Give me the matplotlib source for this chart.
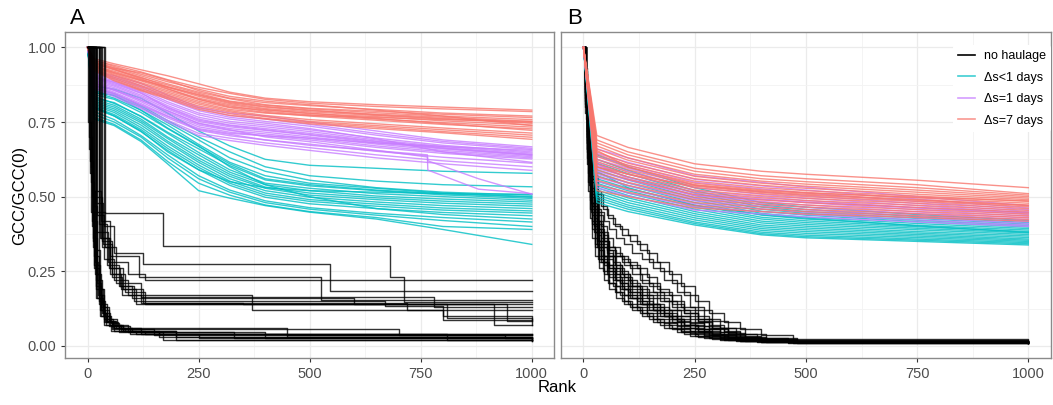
import numpy as np
import matplotlib
matplotlib.use("Agg")
import matplotlib.pyplot as plt
from matplotlib.lines import Line2D

plt.rcParams['font.family'] = ['Liberation Sans', 'DejaVu Sans']

# kolory jak w ggplot
kolory = {"no haulage": "black", "ds<1": "#00BFC4", "ds=1": "#C77CFF", "ds=7": "#F8766D"}
etykiety = ["no haulage", "\u0394s<1 days", "\u0394s=1 days", "\u0394s=7 days"]

# ---------------- panel A ----------------
rank_a = [0, 15, 60, 120, 180, 250, 320, 400, 500, 650, 800, 1000]

red_a = [
    [1, .962, .945, .925, .905, .878, .850, .830, .818, .808, .800, .790],
    [1, .955, .940, .918, .892, .866, .846, .826, .813, .802, .794, .785],
    [1, .958, .936, .910, .885, .860, .836, .820, .808, .790, .770, .738],
    [1, .950, .930, .915, .890, .855, .830, .815, .805, .792, .780, .770],
    [1, .952, .932, .905, .878, .850, .828, .808, .796, .786, .776, .765],
    [1, .946, .925, .898, .874, .846, .820, .806, .794, .781, .770, .758],
    [1, .944, .928, .900, .868, .840, .815, .800, .788, .776, .766, .752],
    [1, .940, .920, .892, .866, .836, .812, .795, .784, .772, .760, .746],
    [1, .942, .915, .888, .860, .830, .808, .792, .778, .768, .754, .740],
    [1, .936, .912, .882, .855, .826, .804, .786, .774, .760, .748, .733],
    [1, .938, .908, .878, .850, .820, .798, .782, .770, .756, .742, .727],
    [1, .932, .905, .872, .845, .815, .792, .780, .772, .765, .758, .752],
    [1, .930, .900, .868, .840, .810, .788, .772, .758, .744, .730, .713],
    [1, .928, .896, .862, .836, .804, .784, .768, .752, .738, .724, .706],
    [1, .925, .892, .858, .832, .798, .778, .762, .748, .733, .718, .699],
    [1, .922, .888, .855, .828, .792, .772, .760, .744, .728, .714, .692],
    [1, .948, .926, .895, .862, .826, .800, .790, .780, .762, .745, .722],
    [1, .934, .916, .890, .868, .842, .818, .802, .790, .774, .762, .748],
]

purple_a = [
    [1, .920, .905, .880, .840, .800, .780, .770, .750, .720, .690, .667],
    [1, .915, .900, .872, .832, .795, .772, .760, .742, .712, .685, .662],
    [1, .910, .895, .866, .826, .788, .766, .752, .736, .706, .680, .658],
    [1, .906, .888, .858, .818, .780, .760, .746, .728, .694, .650, .615],
    [1, .902, .884, .852, .812, .774, .752, .740, .724, .696, .672, .650],
    [1, .898, .878, .846, .805, .766, .746, .734, .718, .690, .668, .646],
    [1, .895, .874, .840, .800, .760, .740, .728, .712, .686, .664, .642],
    [1, .890, .870, .835, .794, .752, .734, .722, .706, .680, .660, .638],
    [1, .886, .865, .830, .788, .746, .728, .716, .700, .676, .655, .634],
    [1, .882, .860, .824, .782, .740, .722, .710, .695, .670, .650, .630],
    [1, .878, .856, .818, .776, .734, .716, .704, .690, .665, .645, .626],
    [1, .874, .850, .812, .770, .728, .712, .704, .696, .680, .668, .655],
    [1, .870, .846, .806, .764, .722, .704, .690, .676, .652, .632, .612],
    [1, .866, .840, .800, .756, .712, .696, .680, .664, .640, .620, .600],
    [1, .862, .835, .795, .750, .705, .688, .672, .655, .630, .610, .588],
    [1, .900, .882, .848, .798, .756, .738, .724, .708, .684, .662, .640],
]
# dwie linie purpurowe ktore spadaja do ~0.51
purple_a_rank_x = [0, 15, 100, 250, 400, 500, 765, 766, 880, 1000]
purple_a_x = [
    [1, .880, .835, .745, .700, .684, .633, .589, .525, .510],
    [1, .870, .820, .725, .690, .672, .640, .620, .560, .508],
]

cyan_a = [
    [1, .870, .860, .830, .780, .720, .670, .625, .605, .595, .585, .578],
    [1, .862, .845, .805, .755, .700, .650, .600, .570, .552, .540, .533],
    [1, .855, .838, .800, .748, .690, .630, .585, .555, .530, .515, .505],
    [1, .848, .840, .790, .740, .675, .615, .570, .545, .528, .512, .500],
    [1, .842, .826, .782, .728, .668, .610, .560, .540, .522, .510, .498],
    [1, .800, .770, .720, .650, .590, .550, .530, .520, .515, .510, .508],
    [1, .830, .815, .768, .712, .648, .590, .545, .528, .510, .500, .488],
    [1, .826, .806, .760, .700, .640, .582, .540, .520, .502, .492, .482],
    [1, .820, .800, .754, .695, .630, .575, .532, .512, .496, .485, .475],
    [1, .815, .794, .748, .686, .622, .568, .528, .505, .490, .478, .468],
    [1, .810, .788, .740, .680, .615, .560, .520, .498, .482, .470, .460],
    [1, .805, .782, .732, .670, .606, .552, .512, .490, .475, .462, .452],
    [1, .800, .775, .725, .662, .598, .545, .505, .484, .468, .455, .445],
    [1, .795, .770, .718, .655, .590, .538, .498, .476, .460, .447, .436],
    [1, .850, .830, .790, .730, .670, .600, .540, .500, .460, .440, .425],
    [1, .785, .758, .705, .640, .570, .522, .486, .463, .444, .430, .415],
    [1, .775, .750, .700, .630, .560, .515, .480, .458, .438, .420, .400],
    [1, .765, .742, .690, .618, .545, .505, .472, .450, .430, .400, .390],
    [1, .760, .738, .685, .610, .520, .495, .470, .448, .425, .390, .340],
    [1, .836, .812, .770, .716, .660, .604, .556, .536, .520, .506, .494],
]

# czarne linie (schodki) w panelu A: (rangi, wartosci)
black_a = [
    ([0, 8, 14, 20, 28, 38, 55, 150, 1000], [1, .55, .30, .19, .12, .08, .055, .035, .035]),
    ([0, 5, 12, 18, 25, 35, 50, 80, 200, 1000], [1, .62, .35, .22, .15, .10, .07, .05, .03, .03]),
    ([0, 10, 16, 24, 32, 42, 60, 90, 330, 1000], [1, .50, .28, .17, .11, .08, .06, .045, .025, .02]),
    ([0, 3, 10, 17, 26, 36, 48, 70, 170, 1000], [1, .70, .40, .24, .14, .09, .065, .045, .02, .02]),
    ([0, 12, 18, 26, 34, 44, 58, 85, 160, 810, 1000], [1, .45, .26, .16, .11, .08, .06, .05, .04, .02, .02]),
    ([0, 6, 12, 20, 30, 40, 55, 75, 130, 450, 1000], [1, .58, .33, .20, .12, .085, .065, .05, .04, .03, .03]),
    ([0, 15, 22, 30, 40, 52, 70, 100, 160, 1000], [1, .42, .24, .15, .10, .075, .06, .045, .03, .015]),
    ([0, 4, 9, 15, 22, 30, 42, 60, 110, 250, 1000], [1, .66, .42, .26, .16, .10, .07, .05, .04, .025, .02]),
    ([0, 18, 25, 32, 44, 58, 75, 95, 1000], [1, .38, .22, .14, .09, .07, .055, .04, .04]),
    ([0, 7, 13, 21, 30, 44, 64, 120, 400, 1000], [1, .60, .36, .21, .13, .085, .06, .045, .025, .025]),
    ([0, 20, 28, 36, 48, 62, 80, 120, 450, 940, 1000], [1, .32, .19, .12, .085, .065, .05, .04, .035, .025, .025]),
    ([0, 2, 8, 14, 20, 28, 38, 52, 200, 1000], [1, .75, .45, .27, .16, .10, .07, .05, .02, .015]),
    ([0, 9, 17, 25, 35, 48, 66, 90, 450, 1000], [1, .52, .30, .19, .13, .09, .07, .06, .04, .04]),
    ([0, 14, 21, 29, 38, 50, 68, 95, 700, 1000], [1, .47, .27, .17, .11, .08, .065, .055, .035, .035]),
    ([0, 40, 170, 680, 712, 1000], [1, .445, .334, .232, .147, .147]),
    ([0, 36, 60, 125, 545, 1000], [1, .40, .31, .275, .184, .184]),
    ([0, 30, 50, 115, 525, 1000], [1, .42, .30, .231, .155, .155]),
    ([0, 25, 45, 90, 130, 1000], [1, .38, .28, .24, .222, .222]),
    ([0, 20, 40, 65, 120, 780, 1000], [1, .45, .33, .21, .165, .13, .13]),
    ([0, 28, 50, 80, 125, 350, 810, 1000], [1, .36, .26, .19, .145, .14, .095, .09]),
    ([0, 22, 38, 60, 90, 370, 800, 1000], [1, .44, .29, .22, .17, .12, .088, .088]),
    ([0, 33, 55, 85, 130, 945, 1000], [1, .35, .24, .18, .14, .085, .085]),
    ([0, 16, 35, 55, 78, 120, 720, 1000], [1, .48, .34, .23, .17, .145, .12, .12]),
    ([0, 26, 44, 70, 105, 670, 800, 1000], [1, .41, .27, .20, .15, .135, .10, .07]),
    ([0, 18, 32, 50, 75, 110, 915, 1000], [1, .50, .33, .24, .19, .14, .07, .07]),
    ([0, 12, 30, 48, 72, 100, 600, 1000], [1, .52, .36, .26, .20, .16, .14, .14]),
]

# ---------------- panel B ----------------
rank_b = [0, 30, 100, 250, 400, 500, 750, 1000]

red_b = [
    [1, .705, .665, .610, .585, .575, .555, .530],
    [1, .690, .650, .595, .570, .560, .540, .510],
    [1, .680, .640, .585, .560, .550, .530, .505],
    [1, .670, .630, .575, .552, .542, .522, .500],
    [1, .660, .622, .568, .545, .535, .515, .495],
    [1, .650, .612, .560, .538, .528, .508, .490],
    [1, .642, .605, .552, .530, .520, .502, .484],
    [1, .635, .598, .545, .523, .514, .496, .478],
    [1, .625, .590, .538, .517, .508, .490, .472],
    [1, .618, .582, .530, .510, .500, .484, .466],
    [1, .610, .575, .522, .503, .494, .478, .460],
    [1, .600, .566, .515, .496, .487, .471, .454],
    [1, .590, .558, .507, .489, .480, .464, .448],
    [1, .580, .548, .498, .481, .472, .457, .442],
    [1, .568, .538, .490, .474, .465, .450, .436],
    [1, .555, .526, .480, .466, .457, .443, .430],
    [1, .540, .515, .470, .458, .450, .436, .424],
    [1, .520, .500, .462, .450, .442, .430, .418],
    [1, .655, .600, .540, .520, .512, .498, .486],
    [1, .600, .575, .535, .514, .505, .488, .470],
]

purple_b = [
    [1, .660, .630, .570, .548, .532, .500, .470],
    [1, .645, .615, .558, .536, .522, .492, .462],
    [1, .635, .605, .548, .526, .512, .484, .456],
    [1, .625, .595, .538, .516, .503, .477, .450],
    [1, .615, .585, .530, .508, .495, .470, .445],
    [1, .605, .575, .520, .500, .487, .463, .440],
    [1, .595, .566, .512, .492, .480, .456, .434],
    [1, .585, .556, .503, .484, .472, .449, .428],
    [1, .575, .546, .494, .476, .464, .443, .422],
    [1, .565, .536, .486, .468, .456, .436, .416],
    [1, .552, .524, .476, .459, .448, .429, .410],
    [1, .540, .512, .466, .450, .440, .422, .404],
    [1, .530, .502, .455, .442, .432, .415, .400],
    [1, .610, .560, .505, .490, .482, .462, .446],
]

cyan_b = [
    [1, .640, .600, .530, .480, .465, .440, .420],
    [1, .625, .588, .520, .472, .457, .433, .413],
    [1, .612, .577, .512, .465, .450, .427, .408],
    [1, .600, .566, .504, .458, .444, .421, .403],
    [1, .590, .556, .496, .451, .438, .416, .398],
    [1, .580, .546, .488, .444, .431, .410, .393],
    [1, .570, .537, .480, .438, .425, .404, .388],
    [1, .560, .528, .472, .431, .419, .399, .383],
    [1, .552, .520, .465, .425, .413, .394, .378],
    [1, .545, .512, .458, .418, .407, .389, .373],
    [1, .537, .504, .450, .412, .401, .383, .368],
    [1, .530, .496, .443, .405, .395, .378, .363],
    [1, .522, .488, .436, .399, .389, .373, .358],
    [1, .514, .480, .429, .393, .383, .368, .354],
    [1, .506, .472, .422, .387, .377, .363, .350],
    [1, .498, .465, .415, .381, .371, .358, .346],
    [1, .490, .458, .410, .376, .366, .354, .342],
    [1, .480, .450, .405, .372, .362, .350, .338],
    [1, .585, .530, .470, .440, .428, .402, .380],
]

# czarne schodki w panelu B, trzy siatki rang
rank_b1 = [0, 4, 8, 12, 17, 23, 30, 40, 52, 66, 82, 100, 120, 142, 166, 192, 220, 250, 282, 316, 352, 400, 470, 1000]
rank_b2 = [0, 3, 7, 11, 15, 20, 26, 34, 45, 58, 73, 90, 110, 132, 156, 182, 210, 240, 272, 306, 342, 390, 460, 1000]
rank_b3 = [0, 5, 9, 14, 19, 25, 33, 44, 56, 70, 86, 105, 126, 148, 172, 198, 226, 258, 290, 325, 362, 410, 480, 1000]

black_b1 = [
    [1, .93, .84, .76, .67, .58, .52, .47, .44, .41, .39, .37, .34, .31, .28, .24, .20, .15, .11, .08, .055, .035, .022, .016],
    [1, .90, .80, .70, .61, .53, .46, .40, .36, .33, .30, .28, .26, .23, .19, .17, .13, .10, .07, .05, .033, .024, .018, .015],
    [1, .88, .76, .66, .57, .49, .42, .36, .32, .28, .25, .22, .20, .18, .16, .12, .10, .08, .06, .045, .03, .021, .016, .013],
    [1, .86, .73, .62, .53, .46, .39, .34, .31, .26, .23, .20, .18, .16, .13, .10, .08, .065, .048, .034, .025, .019, .015, .012],
    [1, .84, .70, .59, .50, .43, .37, .33, .29, .24, .21, .18, .15, .13, .11, .09, .07, .055, .04, .03, .022, .017, .014, .011],
    [1, .82, .68, .57, .48, .41, .35, .29, .25, .22, .19, .16, .14, .12, .10, .08, .06, .046, .035, .026, .02, .016, .013, .011],
    [1, .80, .65, .54, .45, .38, .33, .28, .24, .20, .17, .14, .12, .10, .08, .06, .045, .033, .025, .02, .016, .013, .011, .01],
    [1, .85, .70, .58, .48, .40, .34, .30, .27, .25, .21, .17, .13, .11, .09, .07, .05, .04, .03, .022, .017, .014, .012, .011],
]
black_b2 = [
    [1, .91, .82, .73, .64, .56, .50, .45, .42, .39, .36, .34, .31, .29, .26, .22, .18, .13, .09, .06, .04, .026, .018, .014],
    [1, .89, .79, .69, .60, .52, .45, .39, .35, .32, .30, .27, .24, .21, .18, .15, .12, .09, .065, .045, .03, .02, .016, .013],
    [1, .87, .75, .64, .55, .47, .41, .35, .30, .27, .24, .23, .19, .15, .13, .11, .09, .07, .05, .036, .026, .02, .015, .013],
    [1, .85, .72, .61, .52, .44, .38, .32, .28, .26, .22, .19, .17, .14, .12, .10, .085, .06, .042, .031, .024, .018, .014, .012],
    [1, .83, .69, .58, .49, .42, .36, .30, .27, .23, .20, .17, .16, .14, .12, .10, .065, .05, .037, .028, .021, .016, .013, .011],
    [1, .81, .66, .55, .46, .39, .33, .28, .24, .21, .18, .15, .13, .11, .09, .075, .055, .042, .032, .024, .019, .015, .012, .01],
    [1, .78, .63, .52, .43, .36, .30, .26, .22, .19, .16, .14, .12, .10, .08, .06, .045, .034, .026, .02, .016, .013, .011, .01],
    [1, .86, .72, .62, .54, .47, .42, .38, .35, .30, .26, .22, .20, .17, .14, .12, .10, .075, .055, .04, .028, .02, .015, .012],
]
black_b3 = [
    [1, .92, .83, .74, .65, .57, .51, .46, .43, .40, .37, .35, .32, .28, .25, .21, .17, .12, .085, .06, .04, .028, .02, .016],
    [1, .89, .78, .68, .59, .51, .44, .38, .33, .30, .28, .26, .22, .20, .18, .15, .12, .09, .06, .042, .03, .022, .017, .014],
    [1, .87, .75, .64, .55, .47, .41, .35, .30, .27, .24, .21, .19, .17, .15, .13, .11, .085, .06, .04, .028, .02, .015, .012],
    [1, .84, .71, .60, .51, .44, .38, .33, .30, .27, .24, .20, .17, .14, .11, .09, .07, .055, .04, .03, .022, .017, .013, .011],
    [1, .82, .68, .57, .48, .41, .35, .30, .26, .23, .20, .18, .16, .14, .12, .09, .07, .05, .038, .028, .021, .016, .013, .011],
    [1, .80, .66, .55, .46, .39, .33, .28, .25, .22, .19, .16, .14, .12, .10, .08, .06, .045, .034, .026, .02, .016, .013, .01],
    [1, .76, .61, .50, .41, .34, .29, .25, .21, .18, .15, .13, .11, .09, .07, .055, .04, .03, .024, .019, .015, .012, .011, .01],
    [1, .88, .77, .66, .56, .48, .42, .37, .33, .31, .29, .27, .24, .21, .17, .14, .11, .08, .055, .038, .027, .02, .015, .012],
]


def styl_osi(ax, lewe_etykiety):
    ax.set_xlim(-50, 1050)
    ax.set_ylim(-0.04, 1.05)
    ax.set_xticks([0, 250, 500, 750, 1000])
    ax.set_xticks([125, 375, 625, 875], minor=True)
    ax.set_yticks([0, .25, .5, .75, 1.0])
    ax.set_yticks([.125, .375, .625, .875], minor=True)
    ax.set_yticklabels(["0.00", "0.25", "0.50", "0.75", "1.00"])
    ax.grid(True, which='major', color='#EBEBEB', linewidth=0.9, zorder=0)
    ax.grid(True, which='minor', color='#F3F3F3', linewidth=0.6, zorder=0)
    ax.set_axisbelow(True)
    for s in ax.spines.values():
        s.set_color('#8a8a8a')
        s.set_linewidth(1.0)
    ax.tick_params(which='major', length=3, color='#333333', labelcolor='#4D4D4D',
                   labelsize=10.5, width=0.8)
    ax.tick_params(which='minor', length=0)
    if not lewe_etykiety:
        ax.tick_params(axis='y', labelleft=False, length=0)


fig = plt.figure(figsize=(10.53, 4.05), dpi=100)
axA = fig.add_axes([0.0621, 0.1165, 0.464, 0.8033])
axB = fig.add_axes([0.533, 0.1165, 0.4647, 0.8033])

lw = 1.0
alfa = 0.8

# panel A: kolory pod spodem, czarne na wierzchu
for y in cyan_a:
    axA.plot(rank_a, y, color=kolory["ds<1"], lw=lw, alpha=alfa)
for y in purple_a:
    axA.plot(rank_a, y, color=kolory["ds=1"], lw=lw, alpha=alfa)
for y in purple_a_x:
    axA.plot(purple_a_rank_x, y, color=kolory["ds=1"], lw=lw, alpha=alfa)
for y in red_a:
    axA.plot(rank_a, y, color=kolory["ds=7"], lw=lw, alpha=alfa)
for r, y in black_a:
    axA.plot(r, y, color='black', lw=lw, alpha=alfa, drawstyle='steps-post')

# panel B: czarne pod spodem
for siatka, linie in [(rank_b1, black_b1), (rank_b2, black_b2), (rank_b3, black_b3)]:
    for y in linie:
        axB.plot(siatka, y, color='black', lw=lw, alpha=alfa, drawstyle='steps-post')
for y in cyan_b:
    axB.plot(rank_b, y, color=kolory["ds<1"], lw=lw, alpha=alfa)
for y in purple_b:
    axB.plot(rank_b, y, color=kolory["ds=1"], lw=lw, alpha=alfa)
for y in red_b:
    axB.plot(rank_b, y, color=kolory["ds=7"], lw=lw, alpha=alfa)

styl_osi(axA, True)
styl_osi(axB, False)

uchwyty = [Line2D([], [], color=kolory[k], lw=1.2, alpha=0.75 if k != "no haulage" else 1.0)
           for k in ["no haulage", "ds<1", "ds=1", "ds=7"]]
leg = axB.legend(uchwyty, etykiety, loc='upper right', bbox_to_anchor=(1.0, 0.96),
                 fontsize=9, frameon=True, handlelength=1.4, handletextpad=0.65,
                 labelspacing=0.75, borderaxespad=0.0, borderpad=0.4)
leg.get_frame().set_facecolor('white')
leg.get_frame().set_edgecolor('none')
leg.get_frame().set_alpha(1.0)

fig.text(0.066, 0.955, "A", fontsize=16, ha='left', va='center')
fig.text(0.539, 0.955, "B", fontsize=16, ha='left', va='center')
fig.text(0.529, 0.042, "Rank", fontsize=12, ha='center', va='center')
fig.text(0.019, 0.5165, "GCC/GCC(0)", fontsize=12, ha='center', va='center', rotation=90)

fig.savefig("out.png", dpi=100)
